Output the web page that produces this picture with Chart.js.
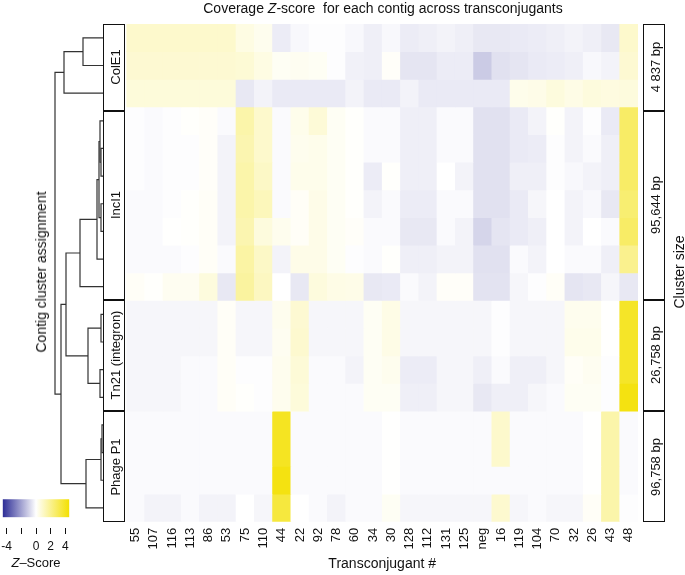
<!DOCTYPE html>
<html>
<head>
<meta charset="utf-8">
<script src="https://cdn.jsdelivr.net/npm/chart.js@4.4.1/dist/chart.umd.min.js"></script>
<style>
  body { margin: 0; background: #fff; font-family: 'Liberation Sans', Arial, sans-serif; }
  #wrap { position: relative; width: 685px; height: 575px; overflow: hidden; }
  canvas { position: absolute; }
  .txt { position: absolute; white-space: pre; color: #111; transform: translate(-50%, -50%); line-height: 1; }
  .rot { transform: translate(-50%, -50%) rotate(-90deg); }
  .box { position: absolute; border: 1.5px solid #111; box-sizing: border-box; }
</style>
</head>
<body>
<div id="wrap">
  <canvas id="heat" width="685" height="575" style="left:0;top:0"></canvas>
  <canvas id="dendro" width="104" height="575" style="left:0;top:0"></canvas>
  <canvas id="cbar" width="100" height="85" style="left:-20px;top:490px"></canvas>
  <div id="labels"></div>
</div>
<script>
"use strict";

// columns of the heatmap
const transconjugants = ['55', '107', '116', '113', '86', '53', '75', '110', '44', '22', '92', '78', '60', '34',
	'30', '128', '112', '131', '125', 'neg', '16', '119', '104', '70', '32', '26', '43', '48'];

const clusterNames = ['ColE1', 'IncI1', 'Tn21 (integron)', 'Phage P1'];
const clusterSizes = ['4 837 bp', '95,644 bp', '26,758 bp', '96,758 bp'];

// Z-scores, one row per contig
const colE1Z = [
	[0.9, 0.9, 0.9, 0.9, 0.9, 0.9, 0.5, 0.3, -0.4, -0.15, -0.05, -0.05, -0.15, -0.35, -0.15, -0.4, -0.35, -0.25, -0.35, -0.5, -0.5, -0.45, -0.4, -0.35, -0.25, -0.35, -0.5, 0.9],
	[0.8, 0.8, 0.8, 0.8, 0.8, 0.8, 0.75, 0.5, 0.2, 0.25, 0.2, -0.05, -0.3, -0.35, 0.1, -0.55, -0.55, -0.4, -0.4, -1.1, -0.65, -0.55, -0.45, -0.4, -0.35, -0.15, -0.25, 0.8],
	[0.65, 0.65, 0.65, 0.65, 0.65, 0.65, -0.5, -0.25, -0.45, -0.45, -0.45, -0.45, -0.25, -0.45, -0.45, -0.25, -0.45, -0.45, -0.45, -0.45, -0.45, 0.35, 0.4, 0.6, 0.45, 0.6, 0.55, 0.6]
];
const incI1Z = [
	[-0.05, -0.1, -0.05, 0.05, 0.1, -0.1, 1.5, 0.9, -0.1, 0.35, 0.7, 0.2, 0.05, -0.1, -0.1, -0.35, -0.35, -0.1, -0.1, -0.65, -0.65, -0.45, -0.25, 0.05, -0.25, -0.05, -0.45, 2.7],
	[-0.05, -0.1, -0.05, -0.05, 0.1, -0.25, 1.4, 0.9, -0.1, 0.3, 0.35, 0.2, 0.05, -0.1, -0.1, -0.35, -0.35, -0.1, -0.1, -0.65, -0.65, -0.45, -0.4, -0.05, -0.25, -0.1, -0.35, 2.7],
	[-0.05, -0.1, -0.05, -0.05, 0.1, -0.25, 1.5, 1.0, -0.1, 0.35, 0.35, 0.2, 0.05, -0.4, 0.05, -0.35, -0.35, 0, -0.25, -0.65, -0.65, -0.35, -0.35, -0.05, -0.15, -0.25, -0.35, 2.7],
	[-0.1, -0.1, -0.05, 0.05, 0.15, -0.25, 1.5, 1.2, -0.1, 0.15, 0.4, 0.2, 0.05, -0.25, -0.1, -0.4, -0.4, -0.1, -0.1, -0.65, -0.65, -0.45, -0.2, 0, -0.25, -0.15, -0.5, 2.5],
	[-0.1, -0.1, 0.02, 0.05, 0.15, -0.25, 1.4, 0.6, 0.3, 0.15, 0.4, 0.2, 0.1, -0.1, -0.1, -0.5, -0.5, -0.1, -0.25, -0.9, -0.55, -0.45, -0.35, 0, -0.25, 0, -0.1, 2.7],
	[-0.1, -0.1, -0.1, -0.05, 0.15, -0.1, 1.6, 1.0, -0.25, 0.4, 0.4, 0.2, -0.05, -0.1, 0.05, -0.35, -0.35, -0.25, -0.25, -0.65, -0.65, -0.1, -0.25, 0, -0.1, -0.1, -0.35, 2.0],
	[0.15, 0.05, 0.25, 0.25, 0.6, -0.5, 1.7, 1.1, 0, -0.5, 0.6, 0.45, 0.4, -0.5, -0.45, -0.1, -0.25, 0.1, 0.1, -0.6, -0.6, -0.2, -0.05, 0.15, -0.55, -0.5, -0.2, -0.5]
];
const tn21Z = [
	[-0.2, -0.2, -0.2, -0.2, -0.2, 0.15, -0.2, -0.2, 0.3, 0.8, -0.2, -0.2, -0.2, 0.2, 0.45, -0.2, -0.2, -0.2, -0.2, -0.2, -0.05, -0.2, -0.2, -0.2, 0.3, 0.3, 0.02, 3.8],
	[-0.2, -0.2, -0.2, -0.2, -0.2, 0.15, -0.2, -0.2, 0.25, 0.85, -0.2, -0.2, -0.2, 0.2, 0.45, -0.2, -0.2, -0.2, -0.2, -0.2, -0.05, -0.2, -0.2, -0.2, 0.35, 0.35, 0.02, 3.8],
	[-0.2, -0.2, -0.2, -0.1, -0.1, 0.15, -0.05, -0.05, 0.3, 0.7, -0.1, -0.1, -0.25, 0.2, 0.3, -0.4, -0.4, -0.2, -0.2, -0.35, -0.1, -0.35, -0.35, -0.2, 0.15, 0.25, -0.05, 3.8],
	[-0.2, -0.2, -0.2, -0.1, -0.1, 0.15, 0.05, -0.05, 0.3, 0.65, -0.1, -0.1, -0.1, 0.2, 0.2, -0.35, -0.35, -0.2, -0.2, -0.5, -0.35, -0.35, -0.2, -0.1, 0.2, 0.2, -0.05, 4.2]
];
const phageZ = [
	[-0.1, -0.1, -0.1, -0.1, -0.1, -0.1, -0.1, -0.1, 3.9, -0.1, -0.1, -0.1, -0.1, -0.1, 0.02, -0.1, -0.1, -0.1, -0.1, -0.1, 0.9, -0.1, -0.1, -0.1, -0.1, 0.02, 1.5, -0.1],
	[-0.1, -0.1, -0.1, -0.1, -0.1, -0.1, -0.1, -0.1, 3.9, -0.1, -0.1, -0.1, -0.1, -0.1, 0.02, -0.1, -0.1, -0.1, -0.1, -0.1, 0.9, -0.1, -0.1, -0.1, -0.1, 0.02, 1.5, -0.1],
	[-0.1, -0.1, -0.1, -0.1, -0.1, -0.1, -0.1, -0.1, 4.2, -0.1, -0.1, -0.1, -0.1, -0.1, 0.02, -0.1, -0.1, -0.1, -0.1, -0.1, -0.1, -0.1, -0.1, -0.1, -0.1, 0.02, 1.5, -0.1],
	[-0.1, -0.25, -0.25, -0.1, -0.25, -0.25, 0, -0.2, 3.4, 0, -0.1, -0.25, -0.1, -0.1, 0.2, -0.2, -0.2, -0.2, -0.2, -0.2, 0.85, -0.2, -0.1, -0.2, -0.2, 0.15, 1.5, -0.05]
];

// dendrogram merges: [childA, childB, height], negative = leaf row (-1 is the top row)
const dendroMerges = [
	[-1, -2, 20],
	[-3, 1, 39],
	[-5, -6, 2],
	[-4, 3, 3],
	[-7, -8, 2],
	[4, 5, 4],
	[-9, 6, 6],
	[-10, 7, 23],
	[-11, -12, 2],
	[-13, -14, 3],
	[9, 10, 15],
	[-15, -16, 1],
	[12, -17, 2],
	[13, -18, 17],
	[8, 11, 37],
	[15, 14, 42],
	[2, 16, 48]
];

const legendTicks = [-4, -2, 0, 2, 4];

Chart.defaults.font.family = "'Liberation Sans', Arial, sans-serif";
Chart.defaults.color = '#111';

const NAVY = [44, 44, 150];
const YELLOW = [243, 224, 0];

function zColor(z) {
	const t = Math.min(1, Math.abs(z) / 4.5);
	const end = z < 0 ? NAVY : YELLOW;
	const c = end.map(v => Math.round(255 + (v - 255) * t));
	return 'rgb(' + c.join(',') + ')';
}

const zRows = colE1Z.concat(incI1Z, tn21Z, phageZ);
const nRows = zRows.length;

// heatmap as floating bars, one dataset per row
const heatSets = zRows.map((row, r) => ({
	data: row.map(() => [r, r + 1]),
	backgroundColor: row.map(zColor),
	borderWidth: 0,
	barPercentage: 1,
	categoryPercentage: 1,
	grouped: false
}));

new Chart(document.getElementById('heat'), {
	type: 'bar',
	data: { labels: transconjugants, datasets: heatSets },
	options: {
		responsive: false,
		animation: false,
		layout: { padding: { left: 126.4, right: 47, top: 24, bottom: 0 } },
		plugins: { legend: { display: false }, tooltip: { enabled: false } },
		scales: {
			x: {
				grid: { display: false, drawTicks: false },
				border: { display: false },
				ticks: { autoSkip: false, minRotation: 90, maxRotation: 90, padding: 6, font: { size: 13 } },
				title: { display: true, text: 'Transconjugant #', font: { size: 14 }, padding: { top: 0, bottom: 2 } },
				afterFit: s => { s.height = 53.3; }
			},
			y: { display: false, min: 0, max: nRows, reverse: true }
		}
	}
});

// dendrogram
const mergePos = [];
const nodeY = i => i < 0 ? -i - 0.5 : mergePos[i - 1].y;
const nodeH = i => i < 0 ? 0 : mergePos[i - 1].h;
const dendroSets = dendroMerges.map(([a, b, h]) => {
	const ya = nodeY(a), yb = nodeY(b);
	const seg = [{ x: nodeH(a), y: ya }, { x: h, y: ya }, { x: h, y: yb }, { x: nodeH(b), y: yb }];
	mergePos.push({ y: (ya + yb) / 2, h: h });
	return { data: seg, showLine: true, pointRadius: 0, borderColor: '#333', borderWidth: 1.2, clip: false };
});

new Chart(document.getElementById('dendro'), {
	type: 'scatter',
	data: { datasets: dendroSets },
	options: {
		responsive: false,
		animation: false,
		layout: { padding: { left: 55, right: 1, top: 24, bottom: 53.3 } },
		plugins: { legend: { display: false }, tooltip: { enabled: false } },
		scales: {
			x: { display: false, min: 0, max: 48, reverse: true },
			y: { display: false, min: 0, max: nRows, reverse: true }
		}
	}
});

// colour key
new Chart(document.getElementById('cbar'), {
	type: 'bar',
	data: {
		labels: ['Z'],
		datasets: [{
			data: [[-4.54, 4.54]],
			borderWidth: 0,
			barPercentage: 1,
			categoryPercentage: 1,
			backgroundColor: ctx => {
				const area = ctx.chart.chartArea;
				if (!area) return '#fff';
				const g = ctx.chart.ctx.createLinearGradient(area.left, 0, area.right, 0);
				g.addColorStop(0, 'rgb(' + NAVY.join(',') + ')');
				g.addColorStop(0.5, '#fff');
				g.addColorStop(1, 'rgb(' + YELLOW.join(',') + ')');
				return g;
			}
		}]
	},
	options: {
		indexAxis: 'y',
		responsive: false,
		animation: false,
		layout: { padding: { left: 22.7, right: 10.7, top: 9.3, bottom: 0 } },
		plugins: { legend: { display: false }, tooltip: { enabled: false } },
		scales: {
			y: { display: false },
			x: {
				min: -4.54, max: 4.54,
				afterBuildTicks: s => { s.ticks = legendTicks.map(v => ({ value: v })); },
				afterFit: s => { s.height = 57.7; },
				grid: { drawOnChartArea: false, drawTicks: true, tickLength: 17, tickBorderDash: [0, 11, 6, 40], tickColor: '#111', tickWidth: 1 },
				border: { display: false },
				ticks: { autoSkip: false, maxRotation: 0, padding: 5, font: { size: 12 }, callback: v => v === -2 ? '' : String(v) }
			}
		}
	}
});

// text and label boxes
const labels = document.getElementById('labels');
function addText(html, x, y, size, rotated) {
	const d = document.createElement('div');
	d.className = rotated ? 'txt rot' : 'txt';
	d.style.left = x + 'px';
	d.style.top = y + 'px';
	d.style.fontSize = size + 'px';
	d.innerHTML = html;
	labels.appendChild(d);
}
function addBox(x, y, w, h) {
	const d = document.createElement('div');
	d.className = 'box';
	d.style.left = x + 'px';
	d.style.top = y + 'px';
	d.style.width = w + 'px';
	d.style.height = h + 'px';
	labels.appendChild(d);
}

const boxEdges = [24, 110.5, 299.5, 411, 522];
clusterNames.forEach((name, i) => {
	const top = boxEdges[i], bottom = boxEdges[i + 1];
	addBox(103, top, 22, bottom - top);
	addBox(643, top, 22, bottom - top);
	addText(name, 114.5, (top + bottom) / 2, 13, true);
	addText(clusterSizes[i], 654.5, (top + bottom) / 2, 13, true);
});

addText('Coverage <i>Z</i>-score  for each contig across transconjugants', 383, 8, 14, false);
addText('Contig cluster assignment', 41, 272, 14, true);
addText('Cluster size', 679, 272, 14, true);
addText('<i>Z</i>\u2013Score', 36, 562, 13, false);
</script>
</body>
</html>
